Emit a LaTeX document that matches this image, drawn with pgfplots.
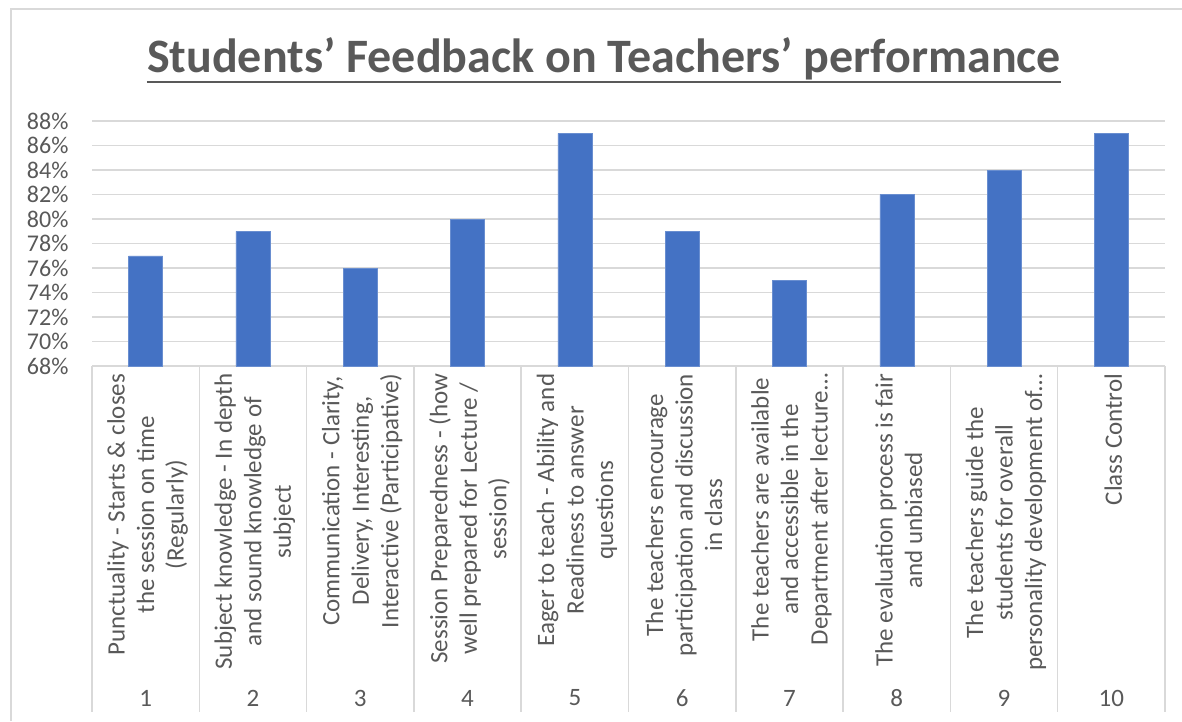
\documentclass[border=0pt]{standalone}
\usepackage{pgfplots}
\pgfplotsset{compat=1.18}
\usepackage{fontspec}
\setmainfont{Carlito}
\definecolor{txt}{HTML}{595959}
\definecolor{gridc}{HTML}{D9D9D9}
\definecolor{barc}{HTML}{4472C4}
\begin{document}
\begin{tikzpicture}[x=1pt,y=1pt]
\path[use as bounding box] (0,0) rectangle (1182,721);
\draw[gridc, line width=1.5pt] (11,0) -- (11,712) -- (1182,712);
\node[font=\fontsize{48}{54}\selectfont\bfseries, text=txt, anchor=base, inner sep=0pt] (t) at (604,648) {Students’ Feedback on Teachers’ performance};
\draw[txt, line width=2.5pt] ([yshift=-9pt]t.base west) -- ([yshift=-9pt]t.base east);
\foreach \k in {0,...,10} {
  \draw[gridc, line width=1.5pt] ({92+\k*107.3},355) -- ({92+\k*107.3},9);
}
\begin{axis}[
  at={(92pt,355pt)}, anchor=south west,
  width=1073pt, height=245pt, scale only axis,
  xmin=0.5, xmax=10.5, ymin=68, ymax=88,
  ytick={68,70,...,88},
  yticklabel={\pgfmathprintnumber{\tick}\%},
  /pgf/number format/assume math mode=true,
  yticklabel style={font=\fontsize{24}{29}\selectfont, text=txt, xshift=-20pt},
  ymajorgrids, grid style={gridc, line width=1.5pt},
  axis x line*=bottom, axis y line*=left,
  y axis line style={draw=none},
  x axis line style={gridc, line width=1.5pt, -},
  ytick style={draw=none}, xtick style={draw=none},
  xtick={1,...,10},
  xticklabels={
    {Punctuality - Starts \& closes\\the session on time\\(Regularly)},
    {Subject knowledge - In depth\\and sound knowledge of\\subject},
    {Communication - Clarity,\\Delivery, Interesting,\\Interactive (Participative)},
    {Session Preparedness - (how\\well prepared for Lecture /\\session)},
    {Eager to teach - Ability and\\Readiness to answer\\questions},
    {The teachers encourage\\participation and discussion\\in class},
    {The teachers are available\\and accessible in the\\Department after lecture…},
    {The evaluation process is fair\\and unbiased},
    {The teachers guide the\\students for overall\\personality development of…},
    {Class Control}},
  xticklabel style={rotate=90, anchor=east, align=center, font=\fontsize{25}{29.5}\selectfont, text=txt, yshift=-2pt},
  ybar, bar width=34pt,
  clip=false,
]
\addplot[fill=barc, draw=barc!80!white, bar shift=0pt] coordinates {
(1,77) (2,79) (3,76) (4,80) (5,87) (6,79) (7,75) (8,82) (9,84) (10,87)};
\pgfplotsinvokeforeach{1,2,3,4,5,6,7,8,9,10}{
  \node[font=\fontsize{25}{29}\selectfont, text=txt] at (axis cs:#1,68) [yshift=-332pt] {#1};
}
\end{axis}
\end{tikzpicture}
\end{document}
